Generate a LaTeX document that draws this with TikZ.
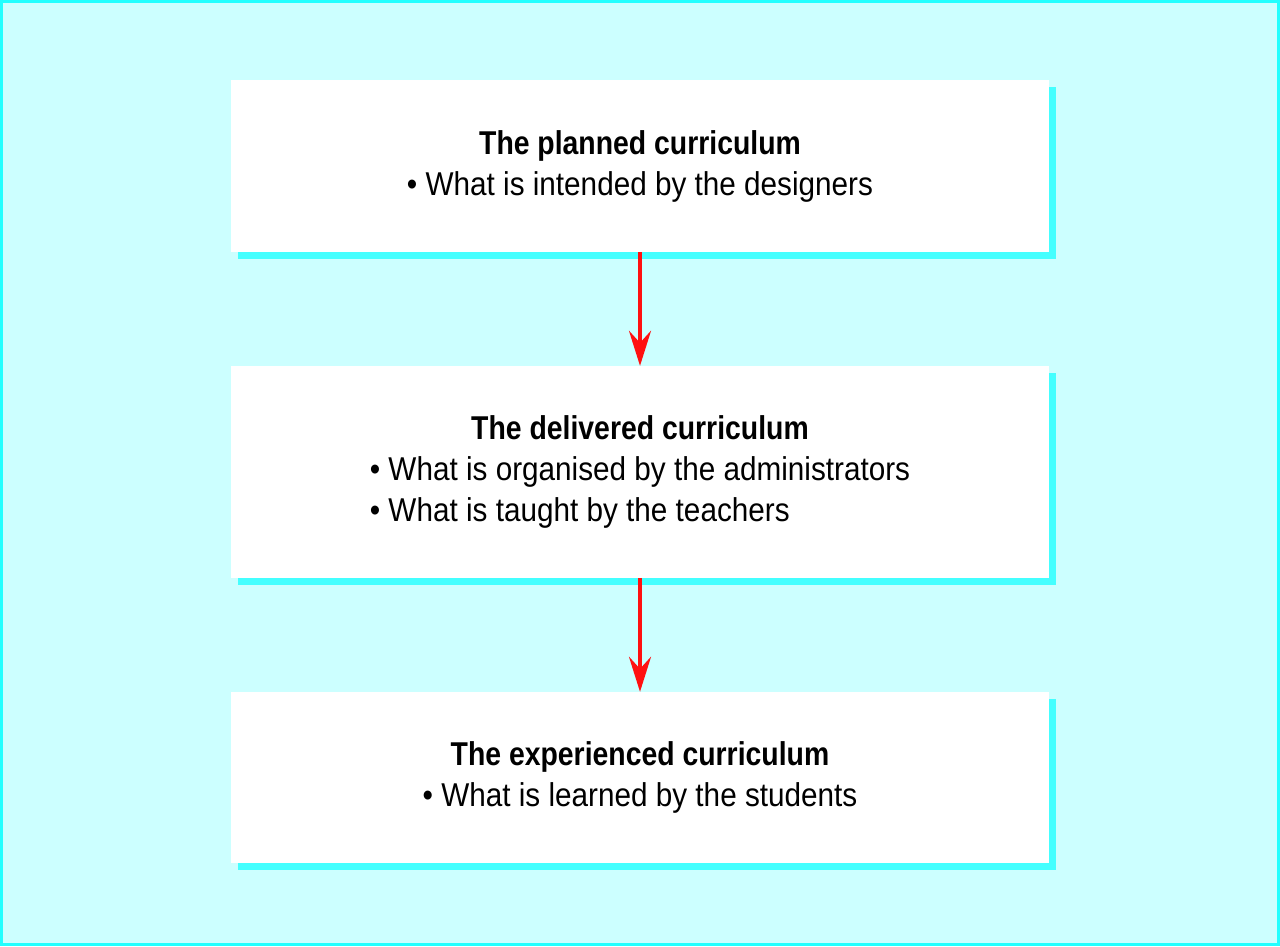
\documentclass[tikz,border=0pt]{standalone}
\usepackage{fontspec}
\setmainfont{Liberation Sans}[FakeStretch=0.90, BoldFeatures={FakeStretch=0.86}]
\usetikzlibrary{arrows.meta,shadows}
\definecolor{bg}{HTML}{CCFFFF}
\definecolor{shadowc}{HTML}{44FFFF}
\definecolor{framec}{HTML}{22FFFF}
\definecolor{arrowred}{HTML}{FF1010}
\begin{document}
\begin{tikzpicture}[x=1pt,y=-1pt,
  stage/.style={fill=white, minimum width=818pt, inner sep=0pt,
    font=\fontsize{33}{41}\selectfont, align=center,
    drop shadow={shadow xshift=7pt, shadow yshift=-7pt, fill=shadowc, opacity=1}},
  flow/.style={draw=arrowred, line width=3.8pt, -{Stealth[length=35pt,width=22pt,inset=12pt]}}]
\fill[bg] (0,0) rectangle (1280,946);
\draw[framec, line width=3pt] (1.5,1.5) rectangle (1278.5,944.5);
\useasboundingbox (0,0) rectangle (1280,946);
\node[stage, minimum height=172pt] (b1) at (640,166)
  {\textbf{The planned curriculum}\\ • What is intended by the designers};
\node[stage, minimum height=212pt] (b2) at (640,472)
  {\begin{tabular}{@{}l@{}}\multicolumn{1}{@{}c@{}}{\bfseries The delivered curriculum}\\
   • What is organised by the administrators\\
   • What is taught by the teachers\end{tabular}};
\node[stage, minimum height=171pt] (b3) at (640,777.5)
  {\textbf{The experienced curriculum}\\ • What is learned by the students};
\draw[flow] (b1.south) -- (b2.north);
\draw[flow] (b2.south) -- (b3.north);
\end{tikzpicture}
\end{document}
